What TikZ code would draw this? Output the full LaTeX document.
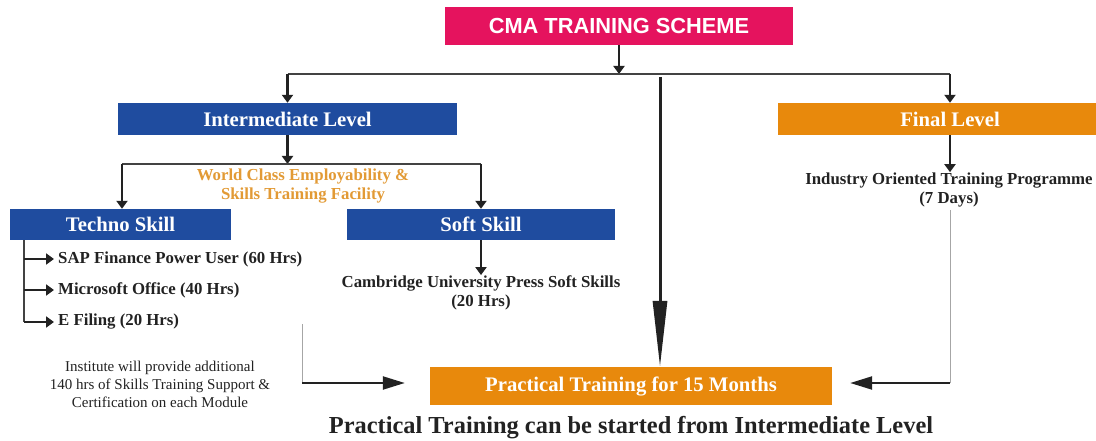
\documentclass[tikz,border=0pt]{standalone}
\usepackage{fontspec}
\setmainfont{Liberation Serif}
\newfontfamily\headfont{Liberation Sans}
\usetikzlibrary{arrows.meta}

\definecolor{cmapink}{HTML}{E5135E}
\definecolor{levelblue}{HTML}{1F4C9F}
\definecolor{levelorange}{HTML}{E8890C}
\definecolor{worldorange}{HTML}{E29A35}
\definecolor{inkgray}{HTML}{222222}

\begin{document}
\begin{tikzpicture}[x=1pt, y=-1pt,
    levelbox/.style={text=white, inner sep=0pt, minimum height=32pt,
        font=\bfseries\fontsize{20.7}{24}\selectfont},
    itemtext/.style={anchor=west, inner sep=0pt, text=inkgray,
        font=\bfseries\fontsize{16.8}{20}\selectfont},
    wire/.style={line width=1.2pt, draw=inkgray!85},
    thinwire/.style={line width=1pt, draw=gray!70},
    arr/.style={line width=2.2pt, draw=inkgray, -{Triangle[length=8pt,width=11pt]}},
    bigarr/.style={line width=2.2pt, draw=inkgray, -{Triangle[length=22pt,width=13pt]}}]
    \clip (0,0) rectangle (1096,441);

    % Top of the scheme
    \node[levelbox, fill=cmapink, minimum width=348pt, minimum height=38pt,
        font=\headfont\bfseries\fontsize{21.8}{24}\selectfont] (cma) at (619,26) {CMA TRAINING SCHEME};

    % The two levels
    \node[levelbox, fill=levelblue, minimum width=339pt] (inter) at (287.5,119) {Intermediate Level};
    \node[levelbox, fill=levelorange, minimum width=344pt] (final) at (950,119) {Final Level};

    % Bus under the scheme box
    \coordinate (busL) at (inter.north |- 0,74);
    \coordinate (busR) at (final.north |- 0,74);
    \coordinate (busM) at (cma.south |- 0,74);
    \coordinate (midtop) at (660,77);
    \draw[arr] (cma.south) -- (busM);
    \draw[wire] (busL) -- (busR);
    \draw[arr] (busL) -- (inter.north);
    \draw[arr] (busR) -- (final.north);

    % Skill boxes
    \node[levelbox, fill=levelblue, minimum width=221pt, minimum height=31pt] (techno) at (120.5,224.5) {Techno Skill};
    \node[levelbox, fill=levelblue, minimum width=268pt, minimum height=31pt] (soft) at (481,224.5) {Soft Skill};

    % Split under the intermediate level
    \coordinate (splitM) at (inter.south |- 0,164);
    \coordinate (splitL) at (122,164);
    \coordinate (splitR) at (soft.north |- 0,164);
    \draw[arr] (inter.south) -- (splitM);
    \draw[wire] (splitL) -- (splitR);
    \draw[arr] (splitL) -- (splitL |- techno.north);
    \draw[arr] (splitR) -- (soft.north);
    \node[align=center, text=worldorange, inner sep=0pt,
        font=\bfseries\fontsize{16.8}{19}\selectfont] (world) at (303,186.5)
        {World Class Employability \&\\Skills Training Facility};

    % Techno skill modules
    \node[itemtext] (sap) at (58,259) {SAP Finance Power User (60 Hrs)};
    \node[itemtext] (office) at (58,290) {Microsoft Office (40 Hrs)};
    \node[itemtext] (efile) at (58,322) {E Filing (20 Hrs)};
    \coordinate (spine) at (24,240);
    \draw[wire] (spine) -- (spine |- efile.west);
    \foreach \m in {sap, office, efile}
        \draw[arr] (spine |- \m.west) -- ([xshift=-4pt]\m.west);

    % Soft skill module
    \node[align=center, text=inkgray, inner sep=0pt,
        font=\bfseries\fontsize{16.8}{19}\selectfont] (cup) at (481,292.5)
        {Cambridge University Press Soft Skills\\(20 Hrs)};
    \draw[arr] (soft.south) -- (cup.north);

    % Final level programme
    \node[align=center, text=inkgray, inner sep=0pt,
        font=\bfseries\fontsize{16.8}{19}\selectfont] (indus) at (949,189.5)
        {Industry Oriented Training Programme\\(7 Days)};
    \draw[arr] (final.south) -- (final.south |- indus.north);

    % Practical training
    \node[levelbox, fill=levelorange, minimum width=402pt, minimum height=38pt] (prac) at (631,386) {Practical Training for 15 Months};
    \draw[line width=3pt, draw=inkgray, -{Triangle[length=66pt,width=14pt]}] (midtop) -- (midtop |- prac.north);

    % Note under the modules
    \node[align=center, text=inkgray, inner sep=0pt,
        font=\fontsize{15}{18}\selectfont] (note) at (160,384)
        {Institute will provide additional\\140 hrs of Skills Training Support \&\\Certification on each Module};

    % Feeds into practical training
    \coordinate (leftup) at (302,324);
    \coordinate (leftdn) at (302,383);
    \coordinate (rightup) at (950,210);
    \coordinate (rightdn) at (950,383);
    \draw[thinwire] (leftup) -- (leftdn);
    \draw[bigarr] (leftdn) -- ([xshift=-25pt]prac.west |- leftdn);
    \draw[thinwire] (rightup) -- (rightdn);
    \draw[bigarr] (rightdn) -- ([xshift=18pt]prac.east |- rightdn);

    % Closing remark
    \node[text=inkgray, inner sep=0pt, font=\bfseries\fontsize{24.4}{28}\selectfont] (remark) at (631,428)
        {Practical Training can be started from Intermediate Level};
\end{tikzpicture}
\end{document}
